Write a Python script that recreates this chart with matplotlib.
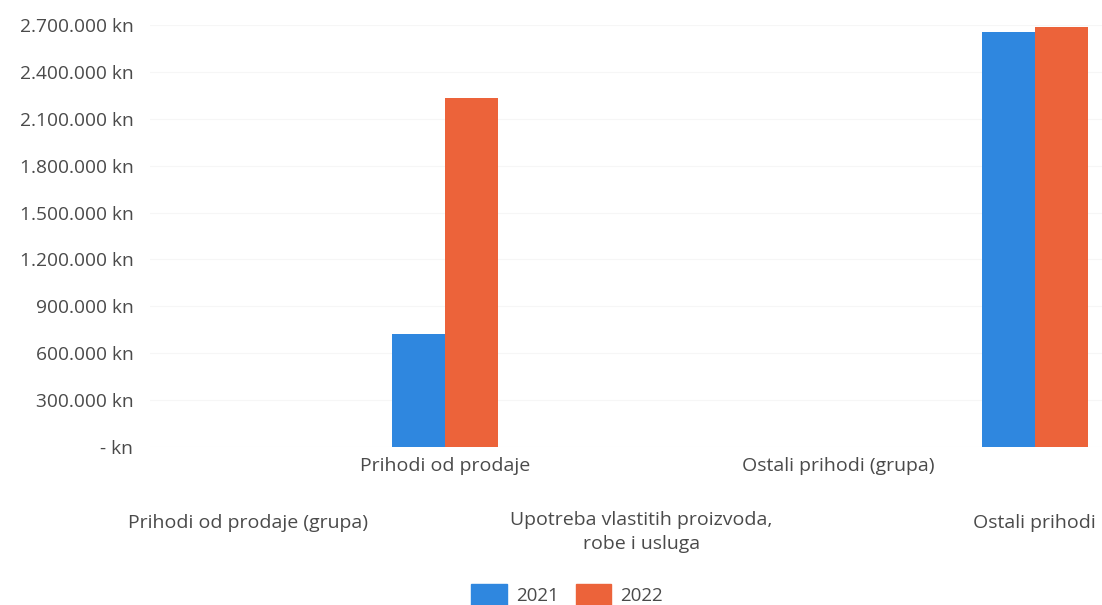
import matplotlib
matplotlib.use("Agg")
import matplotlib.pyplot as plt
from matplotlib.patches import Patch
from matplotlib.ticker import FuncFormatter, MultipleLocator

categories = ["Prihodi od prodaje (grupa)", "Prihodi od prodaje",
              "Upotreba vlastitih proizvoda,\nrobe i usluga",
              "Ostali prihodi (grupa)", "Ostali prihodi"]
series_names = ["2021", "2022"]
values_2021 = [0, 722000, 0, 0, 2655000]
values_2022 = [0, 2233000, 0, 0, 2687000]
colors = ["#2F87DF", "#EC633A"]

plt.rcParams['font.family'] = ['Open Sans', 'DejaVu Sans']
TXT = "#4a4a4a"

W, H = 1102, 605
fig = plt.figure(figsize=(W / 100, H / 100), dpi=100)
left, right, bottom, top = 150, 1133, 447, 25
ax = fig.add_axes([left / W, (H - bottom) / H, (right - left) / W, (bottom - top) / H])

x = list(range(len(categories)))
bw = 0.27
ax.bar([i - bw / 2 for i in x], values_2021, width=bw, color=colors[0], label=series_names[0])
ax.bar([i + bw / 2 for i in x], values_2022, width=bw, color=colors[1], label=series_names[1])

ax.set_xlim(-0.5, len(categories) - 0.5)
ax.set_ylim(0, 2700000)
ax.yaxis.set_major_locator(MultipleLocator(300000))


def fmt(v, pos):
    if v == 0:
        return "- kn"
    return "{:,.0f} kn".format(v).replace(",", ".")


ax.yaxis.set_major_formatter(FuncFormatter(fmt))
ax.tick_params(axis='y', length=0, pad=12, labelsize=13.8, labelcolor=TXT)
ax.set_xticks([])
for s in ax.spines.values():
    s.set_visible(False)
ax.grid(axis='y', color='#f6f6f6', linewidth=0.8)
ax.set_axisbelow(True)

# staggered category labels (offsets in pixels)
offsets = [-67, -10, -64, -10, -67]
for i, lab in enumerate(categories):
    ax.annotate(lab, xy=(i, 0), xycoords=('data', 'axes fraction'),
                xytext=(0, offsets[i] * 0.72), textcoords='offset points',
                ha='center', va='top', fontsize=14, color=TXT,
                multialignment='center', linespacing=1.45, annotation_clip=False)

handles = [Patch(color=c, label=n) for c, n in zip(colors, series_names)]
fig.legend(handles=handles, loc='center', bbox_to_anchor=(567 / W, 1 - 595 / H),
           ncol=2, frameon=False, fontsize=13.5, handlelength=1.9, handleheight=1.5,
           handletextpad=0.5, columnspacing=0.9, labelcolor=TXT)

fig.savefig("out.png", dpi=100)
